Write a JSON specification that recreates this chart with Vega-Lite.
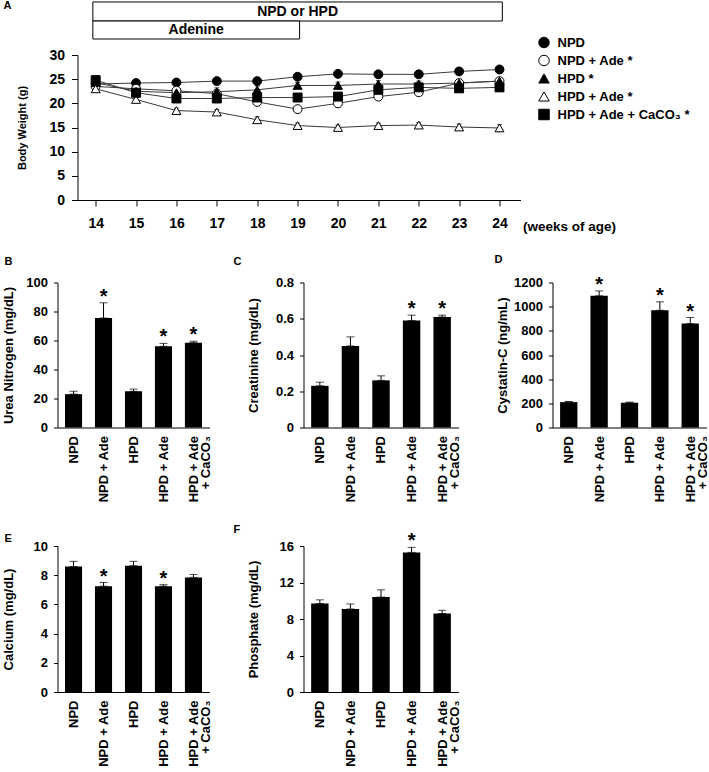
{
  "$schema": "https://vega.github.io/schema/vega-lite/v6.json",
  "background": "white",
  "padding": {"left": 1.5, "top": 0, "right": 0, "bottom": 0},
  "config": {
    "font": "Liberation Sans",
    "view": {"stroke": null},
    "axis": {
      "labelFont": "Liberation Sans", "labelFontWeight": "bold", "labelFontSize": 13, "labelColor": "black",
      "titleFont": "Liberation Sans", "titleFontWeight": "bold", "titleFontSize": 13, "titleColor": "black",
      "domainColor": "black", "tickColor": "black", "grid": false, "labelFlush": false, "labelOverlap": false,
      "tickSize": 4, "labelPadding": 6
    },
    "title": {"font": "Liberation Sans", "fontWeight": "bold", "fontSize": 11, "anchor": "start", "frame": "group", "color": "black"},
    "text": {"font": "Liberation Sans"}
  },
  "datasets": {
    "periods": [
      {"label": "NPD or HPD", "start": 13.93, "end": 24.07},
      {"label": "Adenine", "start": 13.93, "end": 19.05}
    ],
    "bw": [
      {"week": 14, "group": "NPD", "bw": 24.0, "lo": 23.5, "hi": 24.5},
      {"week": 15, "group": "NPD", "bw": 24.2, "lo": 23.8, "hi": 24.6},
      {"week": 16, "group": "NPD", "bw": 24.3, "lo": 23.8, "hi": 24.8},
      {"week": 17, "group": "NPD", "bw": 24.6, "lo": 24.0, "hi": 25.2},
      {"week": 18, "group": "NPD", "bw": 24.6, "lo": 24.1, "hi": 25.1},
      {"week": 19, "group": "NPD", "bw": 25.5, "lo": 25.0, "hi": 26.0},
      {"week": 20, "group": "NPD", "bw": 26.1, "lo": 25.7, "hi": 26.5},
      {"week": 21, "group": "NPD", "bw": 26.0, "lo": 25.5, "hi": 26.5},
      {"week": 22, "group": "NPD", "bw": 26.0, "lo": 25.6, "hi": 26.4},
      {"week": 23, "group": "NPD", "bw": 26.6, "lo": 26.1, "hi": 27.1},
      {"week": 24, "group": "NPD", "bw": 27.0, "lo": 26.4, "hi": 27.6},
      {"week": 14, "group": "NPD + Ade", "bw": 23.5, "lo": 23.1, "hi": 23.9},
      {"week": 15, "group": "NPD + Ade", "bw": 23.0, "lo": 22.5, "hi": 23.5},
      {"week": 16, "group": "NPD + Ade", "bw": 22.6, "lo": 22.0, "hi": 23.2},
      {"week": 17, "group": "NPD + Ade", "bw": 22.0, "lo": 21.4, "hi": 22.6},
      {"week": 18, "group": "NPD + Ade", "bw": 20.3, "lo": 19.6, "hi": 21.0},
      {"week": 19, "group": "NPD + Ade", "bw": 18.8, "lo": 18.3, "hi": 19.3},
      {"week": 20, "group": "NPD + Ade", "bw": 20.0, "lo": 19.2, "hi": 20.8},
      {"week": 21, "group": "NPD + Ade", "bw": 21.4, "lo": 20.8, "hi": 22.0},
      {"week": 22, "group": "NPD + Ade", "bw": 22.3, "lo": 21.8, "hi": 22.8},
      {"week": 23, "group": "NPD + Ade", "bw": 24.2, "lo": 23.7, "hi": 24.7},
      {"week": 24, "group": "NPD + Ade", "bw": 24.6, "lo": 24.0, "hi": 25.2},
      {"week": 14, "group": "HPD", "bw": 24.3, "lo": 23.8, "hi": 24.8},
      {"week": 15, "group": "HPD", "bw": 22.5, "lo": 22.0, "hi": 23.0},
      {"week": 16, "group": "HPD", "bw": 22.2, "lo": 21.7, "hi": 22.7},
      {"week": 17, "group": "HPD", "bw": 22.4, "lo": 21.6, "hi": 23.2},
      {"week": 18, "group": "HPD", "bw": 22.8, "lo": 22.0, "hi": 23.6},
      {"week": 19, "group": "HPD", "bw": 23.7, "lo": 23.1, "hi": 24.3},
      {"week": 20, "group": "HPD", "bw": 23.7, "lo": 23.0, "hi": 24.4},
      {"week": 21, "group": "HPD", "bw": 24.0, "lo": 23.3, "hi": 24.7},
      {"week": 22, "group": "HPD", "bw": 24.0, "lo": 23.4, "hi": 24.6},
      {"week": 23, "group": "HPD", "bw": 24.2, "lo": 23.7, "hi": 24.7},
      {"week": 24, "group": "HPD", "bw": 24.6, "lo": 24.0, "hi": 25.2},
      {"week": 14, "group": "HPD + Ade", "bw": 23.0, "lo": 22.6, "hi": 23.4},
      {"week": 15, "group": "HPD + Ade", "bw": 20.8, "lo": 20.4, "hi": 21.2},
      {"week": 16, "group": "HPD + Ade", "bw": 18.5, "lo": 18.0, "hi": 19.0},
      {"week": 17, "group": "HPD + Ade", "bw": 18.2, "lo": 17.7, "hi": 18.7},
      {"week": 18, "group": "HPD + Ade", "bw": 16.6, "lo": 16.0, "hi": 17.2},
      {"week": 19, "group": "HPD + Ade", "bw": 15.4, "lo": 14.9, "hi": 15.9},
      {"week": 20, "group": "HPD + Ade", "bw": 15.0, "lo": 14.5, "hi": 15.5},
      {"week": 21, "group": "HPD + Ade", "bw": 15.4, "lo": 14.9, "hi": 15.9},
      {"week": 22, "group": "HPD + Ade", "bw": 15.5, "lo": 15.0, "hi": 16.0},
      {"week": 23, "group": "HPD + Ade", "bw": 15.1, "lo": 14.5, "hi": 15.7},
      {"week": 24, "group": "HPD + Ade", "bw": 14.9, "lo": 14.2, "hi": 15.6},
      {"week": 14, "group": "HPD + Ade + CaCO₃", "bw": 24.8, "lo": 24.4, "hi": 25.2},
      {"week": 15, "group": "HPD + Ade + CaCO₃", "bw": 22.2, "lo": 21.7, "hi": 22.7},
      {"week": 16, "group": "HPD + Ade + CaCO₃", "bw": 21.0, "lo": 20.4, "hi": 21.6},
      {"week": 17, "group": "HPD + Ade + CaCO₃", "bw": 21.0, "lo": 20.3, "hi": 21.7},
      {"week": 18, "group": "HPD + Ade + CaCO₃", "bw": 21.2, "lo": 20.4, "hi": 22.0},
      {"week": 19, "group": "HPD + Ade + CaCO₃", "bw": 21.2, "lo": 20.6, "hi": 21.8},
      {"week": 20, "group": "HPD + Ade + CaCO₃", "bw": 21.4, "lo": 20.8, "hi": 22.0},
      {"week": 21, "group": "HPD + Ade + CaCO₃", "bw": 22.8, "lo": 22.2, "hi": 23.4},
      {"week": 22, "group": "HPD + Ade + CaCO₃", "bw": 23.3, "lo": 22.8, "hi": 23.8},
      {"week": 23, "group": "HPD + Ade + CaCO₃", "bw": 23.1, "lo": 22.6, "hi": 23.6},
      {"week": 24, "group": "HPD + Ade + CaCO₃", "bw": 23.3, "lo": 22.8, "hi": 23.8}
    ],
    "urea": [
      {"group": "NPD", "mean": 23, "upper": 25, "star": ""},
      {"group": "NPD + Ade", "mean": 75.5, "upper": 86, "star": "*"},
      {"group": "HPD", "mean": 25, "upper": 26.5, "star": ""},
      {"group": "HPD + Ade", "mean": 56, "upper": 58, "star": "*"},
      {"group": "HPD + Ade + CaCO₃", "mean": 58.5, "upper": 59.5, "star": "*"}
    ],
    "creat": [
      {"group": "NPD", "mean": 0.23, "upper": 0.25, "star": ""},
      {"group": "NPD + Ade", "mean": 0.45, "upper": 0.5, "star": ""},
      {"group": "HPD", "mean": 0.26, "upper": 0.285, "star": ""},
      {"group": "HPD + Ade", "mean": 0.59, "upper": 0.62, "star": "*"},
      {"group": "HPD + Ade + CaCO₃", "mean": 0.61, "upper": 0.62, "star": "*"}
    ],
    "cyst": [
      {"group": "NPD", "mean": 210, "upper": 215, "star": ""},
      {"group": "NPD + Ade", "mean": 1090, "upper": 1130, "star": "*"},
      {"group": "HPD", "mean": 205, "upper": 210, "star": ""},
      {"group": "HPD + Ade", "mean": 970, "upper": 1040, "star": "*"},
      {"group": "HPD + Ade + CaCO₃", "mean": 860, "upper": 910, "star": "*"}
    ],
    "calc": [
      {"group": "NPD", "mean": 8.6, "upper": 8.95, "star": ""},
      {"group": "NPD + Ade", "mean": 7.25, "upper": 7.5, "star": "*"},
      {"group": "HPD", "mean": 8.65, "upper": 8.95, "star": ""},
      {"group": "HPD + Ade", "mean": 7.25, "upper": 7.35, "star": "*"},
      {"group": "HPD + Ade + CaCO₃", "mean": 7.85, "upper": 8.05, "star": ""}
    ],
    "phos": [
      {"group": "NPD", "mean": 9.7, "upper": 10.1, "star": ""},
      {"group": "NPD + Ade", "mean": 9.1, "upper": 9.65, "star": ""},
      {"group": "HPD", "mean": 10.4, "upper": 11.2, "star": ""},
      {"group": "HPD + Ade", "mean": 15.3, "upper": 15.85, "star": "*"},
      {"group": "HPD + Ade + CaCO₃", "mean": 8.6, "upper": 8.95, "star": ""}
    ]
  },
  "resolve": {"scale": {"shape": "independent", "fill": "independent", "stroke": "independent"}, "legend": {"shape": "independent", "fill": "independent", "stroke": "independent"}},
  "spacing": 20.5,
  "vconcat": [
    {
      "hconcat": [
        {
          "width": 1, "height": 145,
          "data": {"values": [{}]},
          "mark": {"type": "point", "opacity": 0}
        },
        {
          "width": 443, "height": 145,
          "title": {"text": "A", "dx": -74, "offset": -10},
          "layer": [
            {
              "data": {"name": "periods"},
              "transform": [{"filter": "datum.label == 'NPD or HPD'"}],
              "mark": {"type": "rect", "fill": "white", "stroke": "black", "strokeWidth": 1},
              "encoding": {
                "x": {"field": "start", "type": "quantitative", "title": "(weeks of age)", "scale": {"domain": [13.55, 24.52], "nice": false}},
                "x2": {"field": "end"},
                "y": {"datum": 40.97, "type": "quantitative", "title": "Body Weight (g)", "scale": {"domain": [0, 30], "nice": false}},
                "y2": {"datum": 37.03}
              }
            },
            {
              "data": {"name": "periods"},
              "transform": [{"filter": "datum.label == 'Adenine'"}],
              "mark": {"type": "rect", "fill": "white", "stroke": "black", "strokeWidth": 1},
              "encoding": {
                "x": {"field": "start", "type": "quantitative", "title": "(weeks of age)", "scale": {"domain": [13.55, 24.52], "nice": false}},
                "x2": {"field": "end"},
                "y": {"datum": 37.03, "type": "quantitative", "title": "Body Weight (g)", "scale": {"domain": [0, 30], "nice": false}},
                "y2": {"datum": 33.31}
              }
            },
            {
              "data": {"name": "periods"},
              "transform": [{"filter": "datum.label == 'NPD or HPD'"}],
              "mark": {"type": "text", "fontSize": 14, "fontWeight": "bold", "color": "black", "baseline": "middle"},
              "encoding": {
                "x": {"datum": 19.0, "type": "quantitative", "title": "(weeks of age)"},
                "y": {"datum": 39.0, "type": "quantitative", "title": "Body Weight (g)"},
                "text": {"field": "label"}
              }
            },
            {
              "data": {"name": "periods"},
              "transform": [{"filter": "datum.label == 'Adenine'"}],
              "mark": {"type": "text", "fontSize": 14, "fontWeight": "bold", "color": "black", "baseline": "middle"},
              "encoding": {
                "x": {"datum": 16.49, "type": "quantitative", "title": "(weeks of age)"},
                "y": {"datum": 35.17, "type": "quantitative", "title": "Body Weight (g)"},
                "text": {"field": "label"}
              }
            },
            {
              "data": {"name": "bw"},
              "mark": {"type": "errorbar", "ticks": {"size": 5}, "color": "black"},
              "encoding": {
                "x": {"field": "week", "type": "quantitative", "title": "(weeks of age)", "scale": {"domain": [13.55, 24.52], "nice": false}},
                "y": {"field": "lo", "type": "quantitative", "title": "Body Weight (g)", "scale": {"domain": [0, 30], "nice": false}},
                "y2": {"field": "hi"}
              }
            },
            {
              "data": {"name": "bw"},
              "mark": {"type": "line", "color": "#3a3a3a", "strokeWidth": 1},
              "encoding": {
                "x": {"field": "week", "type": "quantitative", "title": "(weeks of age)", "scale": {"domain": [13.55, 24.52], "nice": false},
                      "axis": {"values": [14, 15, 16, 17, 18, 19, 20, 21, 22, 23, 24], "tickCount": 30, "format": "d", "tickSize": 6, "labelPadding": 10, "labelFontSize": 14, "labelOverlap": false,
                               "titleX": 445, "titleY": 26, "titleAlign": "left", "titleBaseline": "middle", "titleFontSize": 13.5}},
                "y": {"field": "bw", "type": "quantitative", "title": "Body Weight (g)", "scale": {"domain": [0, 30], "nice": false},
                      "axis": {"values": [0, 5, 10, 15, 20, 25, 30], "tickCount": 30, "format": "d", "tickSize": 6, "labelPadding": 7, "labelFontSize": 14, "labelOverlap": false,
                               "titleX": -55, "titleY": 72.5, "titleBaseline": "middle", "titleFontSize": 11}},
                "detail": {"field": "group"}
              }
            },
            {
              "data": {"name": "bw"},
              "mark": {"type": "point", "filled": true, "strokeWidth": 1, "opacity": 1, "size": 80},
              "encoding": {
                "x": {"field": "week", "type": "quantitative", "title": "(weeks of age)", "scale": {"domain": [13.55, 24.52], "nice": false}},
                "y": {"field": "bw", "type": "quantitative", "title": "Body Weight (g)", "scale": {"domain": [0, 30], "nice": false}},
                "shape": {"field": "group", "type": "nominal",
                          "scale": {"domain": ["NPD", "NPD + Ade", "HPD", "HPD + Ade", "HPD + Ade + CaCO₃"], "range": ["circle", "circle", "triangle-up", "triangle-up", "square"]},
                          "legend": {"orient": "none", "legendX": 460, "legendY": -19, "title": null, "labelFont": "Liberation Sans", "labelFontWeight": "bold", "labelFontSize": 13, "labelColor": "black",
                                     "symbolSize": 110, "symbolStrokeWidth": 1, "symbolOpacity": 1, "rowPadding": 3, "labelOffset": 7, "padding": 0,
                                     "labelExpr": "datum.label == 'NPD' ? 'NPD' : datum.label + ' *'"}},
                "fill": {"field": "group", "type": "nominal",
                         "scale": {"domain": ["NPD", "NPD + Ade", "HPD", "HPD + Ade", "HPD + Ade + CaCO₃"], "range": ["black", "white", "black", "white", "black"]},
                         "legend": {"orient": "none", "legendX": 460, "legendY": -19, "title": null, "labelFont": "Liberation Sans", "labelFontWeight": "bold", "labelFontSize": 13, "labelColor": "black",
                                    "symbolSize": 110, "symbolStrokeWidth": 1, "symbolOpacity": 1, "rowPadding": 3, "labelOffset": 7, "padding": 0,
                                    "labelExpr": "datum.label == 'NPD' ? 'NPD' : datum.label + ' *'"}},
                "stroke": {"field": "group", "type": "nominal",
                           "scale": {"domain": ["NPD", "NPD + Ade", "HPD", "HPD + Ade", "HPD + Ade + CaCO₃"], "range": ["black", "black", "black", "black", "black"]},
                           "legend": {"orient": "none", "legendX": 460, "legendY": -19, "title": null, "labelFont": "Liberation Sans", "labelFontWeight": "bold", "labelFontSize": 13, "labelColor": "black",
                                      "symbolSize": 110, "symbolStrokeWidth": 1, "symbolOpacity": 1, "rowPadding": 3, "labelOffset": 7, "padding": 0,
                                      "labelExpr": "datum.label == 'NPD' ? 'NPD' : datum.label + ' *'"}}
              }
            }
          ]
        }
      ],
      "spacing": 19,
      "bounds": "flush",
      "resolve": {"scale": {"shape": "independent", "fill": "independent", "stroke": "independent"}, "legend": {"shape": "independent", "fill": "independent", "stroke": "independent"}}
    },
    {
      "hconcat": [
        {
          "width": 152, "height": 145,
          "title": {"text": "B", "dx": -53, "offset": 10},
          "data": {"name": "urea"},
          "encoding": {
            "x": {"field": "group", "type": "nominal", "sort": null,
                  "scale": {"domain": ["NPD", "NPD + Ade", "HPD", "HPD + Ade", "HPD + Ade + CaCO₃"], "paddingInner": 0.43, "paddingOuter": 0.25},
                  "axis": {"title": null, "ticks": false, "labelAngle": -90, "labelAlign": "right", "labelBaseline": "top", "labelOffset": -5.6, "labelPadding": 8, "labelLineHeight": 12,
                           "labelExpr": "datum.label == 'HPD + Ade + CaCO₃' ? ['HPD + Ade', '+ CaCO₃'] : datum.label"}}
          },
          "layer": [
            {"mark": {"type": "bar", "color": "black"},
             "encoding": {"y": {"field": "mean", "type": "quantitative", "title": "Urea Nitrogen (mg/dL)", "scale": {"domain": [0, 100], "nice": false},
                                "axis": {"values": [0, 20, 40, 60, 80, 100], "tickCount": 30, "format": "d", "labelOverlap": false, "titleX": -49, "titleY": 72.5, "titleBaseline": "middle"}}}},
            {"mark": {"type": "errorbar", "ticks": {"size": 8}, "color": "black"},
             "encoding": {"y": {"field": "mean", "type": "quantitative", "title": "Urea Nitrogen (mg/dL)"}, "y2": {"field": "upper"}}},
            {"mark": {"type": "text", "fontSize": 20, "fontWeight": "bold", "baseline": "alphabetic", "color": "black"},
             "encoding": {"y": {"field": "upper", "type": "quantitative", "title": "Urea Nitrogen (mg/dL)"}, "text": {"field": "star"}}}
          ]
        },
        {
          "width": 155, "height": 145,
          "title": {"text": "C", "dx": -70, "offset": 10},
          "data": {"name": "creat"},
          "encoding": {
            "x": {"field": "group", "type": "nominal", "sort": null,
                  "scale": {"domain": ["NPD", "NPD + Ade", "HPD", "HPD + Ade", "HPD + Ade + CaCO₃"], "paddingInner": 0.43, "paddingOuter": 0.25},
                  "axis": {"title": null, "ticks": false, "labelAngle": -90, "labelAlign": "right", "labelBaseline": "top", "labelOffset": -5.6, "labelPadding": 8, "labelLineHeight": 12,
                           "labelExpr": "datum.label == 'HPD + Ade + CaCO₃' ? ['HPD + Ade', '+ CaCO₃'] : datum.label"}}
          },
          "layer": [
            {"mark": {"type": "bar", "color": "black"},
             "encoding": {"y": {"field": "mean", "type": "quantitative", "title": "Creatinine (mg/dL)", "scale": {"domain": [0, 0.8], "nice": false},
                                "axis": {"values": [0, 0.2, 0.4, 0.6, 0.8], "tickCount": 30, "format": ".1~f", "labelOverlap": false, "titleX": -50, "titleY": 72.5, "titleBaseline": "middle", "titleAlign": "center", "titleAngle": 270}}}},
            {"mark": {"type": "errorbar", "ticks": {"size": 8}, "color": "black"},
             "encoding": {"y": {"field": "mean", "type": "quantitative", "title": "Creatinine (mg/dL)"}, "y2": {"field": "upper"}}},
            {"mark": {"type": "text", "fontSize": 20, "fontWeight": "bold", "baseline": "alphabetic", "color": "black"},
             "encoding": {"y": {"field": "upper", "type": "quantitative", "title": "Creatinine (mg/dL)"}, "text": {"field": "star"}}}
          ]
        },
        {
          "width": 154, "height": 145,
          "title": {"text": "D", "dx": -58, "offset": 10},
          "data": {"name": "cyst"},
          "encoding": {
            "x": {"field": "group", "type": "nominal", "sort": null,
                  "scale": {"domain": ["NPD", "NPD + Ade", "HPD", "HPD + Ade", "HPD + Ade + CaCO₃"], "paddingInner": 0.43, "paddingOuter": 0.25},
                  "axis": {"title": null, "ticks": false, "labelAngle": -90, "labelAlign": "right", "labelBaseline": "top", "labelOffset": -5.6, "labelPadding": 8, "labelLineHeight": 12,
                           "labelExpr": "datum.label == 'HPD + Ade + CaCO₃' ? ['HPD + Ade', '+ CaCO₃'] : datum.label"}}
          },
          "layer": [
            {"mark": {"type": "bar", "color": "black"},
             "encoding": {"y": {"field": "mean", "type": "quantitative", "title": "Cystatin-C (ng/mL)", "scale": {"domain": [0, 1200], "nice": false},
                                "axis": {"values": [0, 200, 400, 600, 800, 1000, 1200], "tickCount": 30, "format": "d", "labelOverlap": false, "titleX": -50, "titleY": 72.5, "titleBaseline": "middle"}}}},
            {"mark": {"type": "errorbar", "ticks": {"size": 8}, "color": "black"},
             "encoding": {"y": {"field": "mean", "type": "quantitative", "title": "Cystatin-C (ng/mL)"}, "y2": {"field": "upper"}}},
            {"mark": {"type": "text", "fontSize": 20, "fontWeight": "bold", "baseline": "alphabetic", "color": "black"},
             "encoding": {"y": {"field": "upper", "type": "quantitative", "title": "Cystatin-C (ng/mL)"}, "text": {"field": "star"}}}
          ]
        }
      ],
      "spacing": 94,
      "bounds": "flush"
    },
    {
      "hconcat": [
        {
          "width": 152, "height": 146,
          "title": {"text": "E", "dx": -53, "offset": -3.5},
          "data": {"name": "calc"},
          "encoding": {
            "x": {"field": "group", "type": "nominal", "sort": null,
                  "scale": {"domain": ["NPD", "NPD + Ade", "HPD", "HPD + Ade", "HPD + Ade + CaCO₃"], "paddingInner": 0.43, "paddingOuter": 0.25},
                  "axis": {"title": null, "ticks": false, "labelAngle": -90, "labelAlign": "right", "labelBaseline": "top", "labelOffset": -5.6, "labelPadding": 8, "labelLineHeight": 12,
                           "labelExpr": "datum.label == 'HPD + Ade + CaCO₃' ? ['HPD + Ade', '+ CaCO₃'] : datum.label"}}
          },
          "layer": [
            {"mark": {"type": "bar", "color": "black"},
             "encoding": {"y": {"field": "mean", "type": "quantitative", "title": "Calcium (mg/dL)", "scale": {"domain": [0, 10], "nice": false},
                                "axis": {"values": [0, 2, 4, 6, 8, 10], "tickCount": 30, "format": "d", "labelOverlap": false, "titleX": -49, "titleY": 73, "titleBaseline": "middle"}}}},
            {"mark": {"type": "errorbar", "ticks": {"size": 8}, "color": "black"},
             "encoding": {"y": {"field": "mean", "type": "quantitative", "title": "Calcium (mg/dL)"}, "y2": {"field": "upper"}}},
            {"mark": {"type": "text", "fontSize": 20, "fontWeight": "bold", "baseline": "alphabetic", "color": "black"},
             "encoding": {"y": {"field": "upper", "type": "quantitative", "title": "Calcium (mg/dL)"}, "text": {"field": "star"}}}
          ]
        },
        {
          "width": 155, "height": 146,
          "title": {"text": "F", "dx": -70, "offset": -3.5},
          "data": {"name": "phos"},
          "encoding": {
            "x": {"field": "group", "type": "nominal", "sort": null,
                  "scale": {"domain": ["NPD", "NPD + Ade", "HPD", "HPD + Ade", "HPD + Ade + CaCO₃"], "paddingInner": 0.43, "paddingOuter": 0.25},
                  "axis": {"title": null, "ticks": false, "labelAngle": -90, "labelAlign": "right", "labelBaseline": "top", "labelOffset": -5.6, "labelPadding": 8, "labelLineHeight": 12,
                           "labelExpr": "datum.label == 'HPD + Ade + CaCO₃' ? ['HPD + Ade', '+ CaCO₃'] : datum.label"}}
          },
          "layer": [
            {"mark": {"type": "bar", "color": "black"},
             "encoding": {"y": {"field": "mean", "type": "quantitative", "title": "Phosphate (mg/dL)", "scale": {"domain": [0, 16], "nice": false},
                                "axis": {"values": [0, 4, 8, 12, 16], "tickCount": 30, "format": "d", "labelOverlap": false, "titleX": -50, "titleY": 73, "titleBaseline": "middle"}}}},
            {"mark": {"type": "errorbar", "ticks": {"size": 8}, "color": "black"},
             "encoding": {"y": {"field": "mean", "type": "quantitative", "title": "Phosphate (mg/dL)"}, "y2": {"field": "upper"}}},
            {"mark": {"type": "text", "fontSize": 20, "fontWeight": "bold", "baseline": "alphabetic", "color": "black"},
             "encoding": {"y": {"field": "upper", "type": "quantitative", "title": "Phosphate (mg/dL)"}, "text": {"field": "star"}}}
          ]
        }
      ],
      "spacing": 94,
      "bounds": "flush"
    }
  ]
}
